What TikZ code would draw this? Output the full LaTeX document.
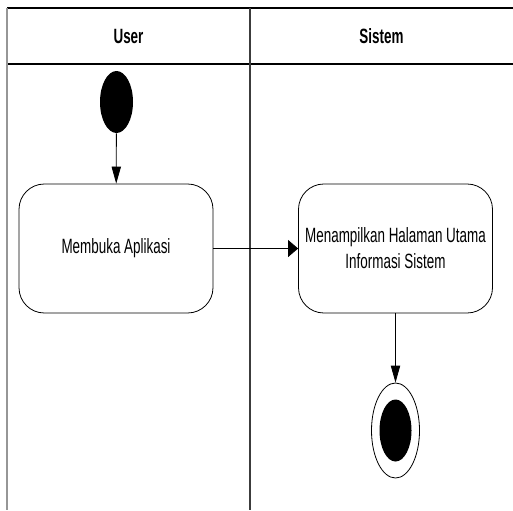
\documentclass[tikz,border=0pt]{standalone}
\usepackage{fontspec}
\setmainfont[FakeStretch=0.65]{Liberation Sans}
\usetikzlibrary{shapes.geometric,arrows.meta}

\tikzset{
  lane/.style={line width=0.9pt, color={rgb, 255:red, 60; green, 60; blue, 60 }},
  activity/.style={draw, line width=0.6pt, rounded corners=19pt, minimum width=145.5pt, minimum height=96.75pt, align=center, font=\fontsize{15.5}{19.5}\selectfont},
  initnode/.style={ellipse, fill=black, inner sep=0pt, minimum width=24.75pt, minimum height=46.5pt},
  finalring/.style={ellipse, draw, line width=0.6pt, inner sep=0pt, minimum width=36pt, minimum height=71.25pt},
  finaldot/.style={ellipse, fill=black, inner sep=0pt, minimum width=24pt, minimum height=46.5pt},
  flowv/.style={line width=0.6pt, -{Triangle[length=12.75pt, width=7pt]}},
  flowh/.style={line width=0.6pt, -{Triangle[length=7.5pt, width=12.75pt]}},
  lanetitle/.style={font=\fontsize{15.5}{19.5}\selectfont\bfseries}
}

\begin{document}
\begin{tikzpicture}[x=0.75pt,y=0.75pt,yscale=-1,xscale=1]
\useasboundingbox (0,0) rectangle (513,510);

%Swimlane frame
\draw [line width=1.3pt] (7,8) -- (513,8) ;
\draw [line width=1.3pt] (7,64) -- (513,64) ;
\draw [line width=0.9pt, color={rgb, 255:red, 150; green, 150; blue, 150 }] (7,8) -- (7,510) ;
\draw [lane] (250,8) -- (250,510) ;

% Lane titles
\node [lanetitle] (userTitle) at (128.5,36) {User};
\node [lanetitle] (sistemTitle) at (381.5,36) {Sistem};

%Start
\node [initnode] (start) at (116.5,102) {};

% Activities
\node [activity] (bukaApp) at (116,248.5) {Membuka Aplikasi};
\node [activity] (tampilHome) at (395.5,248.5) {Menampilkan Halaman Utama\\Informasi Sistem};

%End
\node [finalring] (endRing) at (395.5,430.5) {};
\node [finaldot] at (endRing.center) {};

%Flows
\draw [flowv] (start) -- (bukaApp) ;
\draw [flowh] (bukaApp) -- (tampilHome) ;
\draw [flowv] (tampilHome) -- (endRing) ;

\end{tikzpicture}
\end{document}
